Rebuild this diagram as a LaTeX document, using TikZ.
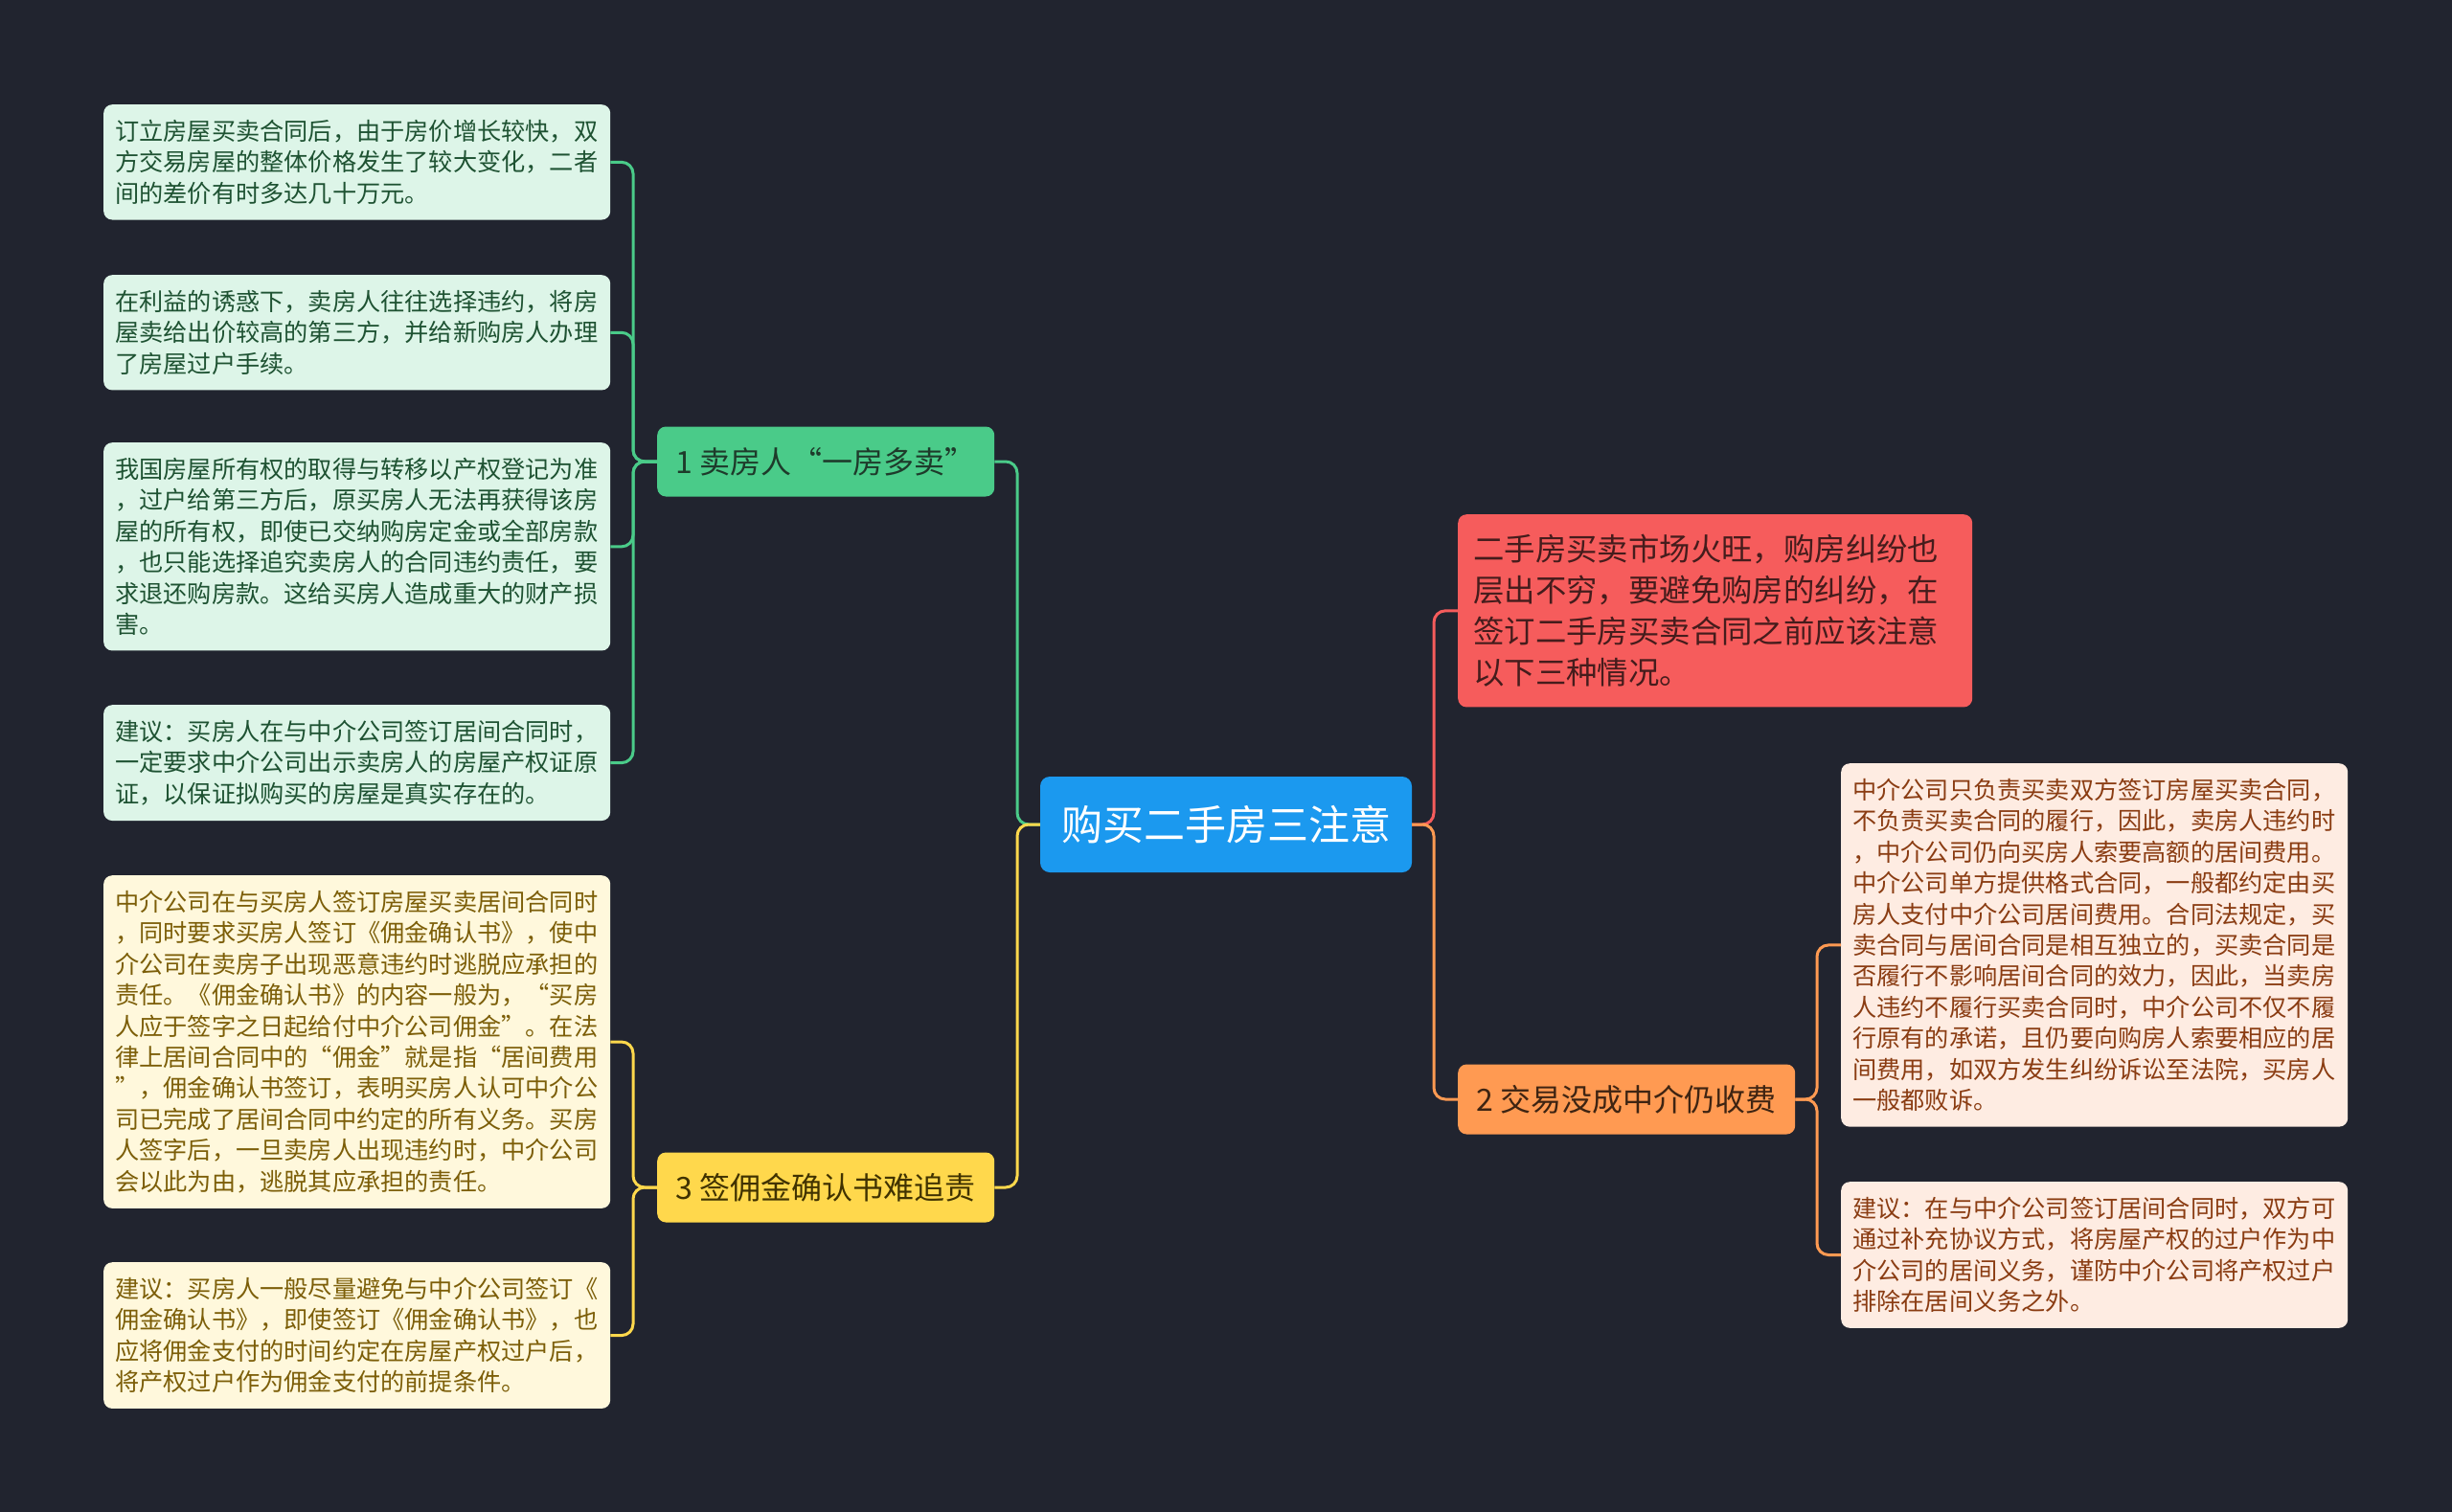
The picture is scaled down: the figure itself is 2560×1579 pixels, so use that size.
\documentclass[tikz,border=0pt]{standalone}
\usepackage{fontspec}
\setmainfont{Noto Sans CJK SC}
\definecolor{bgdark}{HTML}{21242F}
\definecolor{rootblue}{HTML}{1B99EF}
\definecolor{grn}{HTML}{4ACB89}
\definecolor{grntext}{HTML}{1E3B2B}
\definecolor{grnleaf}{HTML}{DDF5E8}
\definecolor{grnleaftext}{HTML}{1E5232}
\definecolor{ylw}{HTML}{FFD84C}
\definecolor{ylwtext}{HTML}{403200}
\definecolor{ylwleaf}{HTML}{FFF8DC}
\definecolor{ylwleaftext}{HTML}{7C5E08}
\definecolor{rd}{HTML}{F65C5C}
\definecolor{rdtext}{HTML}{451C1C}
\definecolor{org}{HTML}{FF9A52}
\definecolor{orgtext}{HTML}{3E2412}
\definecolor{orgleaf}{HTML}{FEECE2}
\definecolor{orgleaftext}{HTML}{8A3C12}
\begin{document}
\begin{tikzpicture}[x=1pt,y=-1pt,
  root/.style={fill=rootblue,text=white,rounded corners=10pt,inner xsep=22pt,minimum height=100pt,font=\fontsize{43}{50}\selectfont},
  topic/.style={rounded corners=9pt,minimum width=352pt,minimum height=73pt,inner xsep=16pt,font=\fontsize{32}{38}\selectfont},
  leaf/.style={rounded corners=9pt,text width=505pt,align=left,inner xsep=12pt,inner ysep=16pt,font=\fontsize{25.2}{32.4}\selectfont},
  link/.style={line width=3pt,rounded corners=12pt}]
% background
\fill[bgdark] (0,0) rectangle (2560,1579);
\coordinate (trunkL) at (1062,0);
\coordinate (trunkR) at (1497,0);
\coordinate (leafL) at (661,0);
\coordinate (leafR) at (1897,0);
% center and topics
\node[root] (root) at (1280,861) {购买二手房三注意};
\node[topic,fill=grn,text=grntext,anchor=west] (seller) at (686,482) {1 卖房人“一房多卖”};
\node[topic,fill=ylw,text=ylwtext,anchor=west] (commission) at (686,1240) {3 签佣金确认书难追责};
\node[topic,fill=org,text=orgtext,anchor=west] (agentfee) at (1522,1148) {2 交易没成中介仍收费};
\node[leaf,fill=rd,text=rdtext,anchor=north west,text width=505pt,inner xsep=16pt,inner ysep=21pt,
  font=\fontsize{32.4}{43}\selectfont] (intro) at (1522,537)
  {二手房买卖市场火旺，购房纠纷也\\层出不穷，要避免购房的纠纷，在\\签订二手房买卖合同之前应该注意\\以下三种情况。};
% left leaves
\node[leaf,fill=grnleaf,text=grnleaftext,anchor=north west] (s1) at (108,109)
  {订立房屋买卖合同后，由于房价增长较快，双\\方交易房屋的整体价格发生了较大变化，二者\\间的差价有时多达几十万元。};
\node[leaf,fill=grnleaf,text=grnleaftext,anchor=north west] (s2) at (108,287)
  {在利益的诱惑下，卖房人往往选择违约，将房\\屋卖给出价较高的第三方，并给新购房人办理\\了房屋过户手续。};
\node[leaf,fill=grnleaf,text=grnleaftext,anchor=north west] (s3) at (108,462)
  {我国房屋所有权的取得与转移以产权登记为准\\，过户给第三方后，原买房人无法再获得该房\\屋的所有权，即使已交纳购房定金或全部房款\\，也只能选择追究卖房人的合同违约责任，要\\求退还购房款。这给买房人造成重大的财产损\\害。};
\node[leaf,fill=grnleaf,text=grnleaftext,anchor=north west] (s4) at (108,736)
  {建议：买房人在与中介公司签订居间合同时，\\一定要求中介公司出示卖房人的房屋产权证原\\证，以保证拟购买的房屋是真实存在的。};
\node[leaf,fill=ylwleaf,text=ylwleaftext,anchor=north west] (c1) at (108,914)
  {中介公司在与买房人签订房屋买卖居间合同时\\，同时要求买房人签订《佣金确认书》，使中\\介公司在卖房子出现恶意违约时逃脱应承担的\\责任。《佣金确认书》的内容一般为，“买房\\人应于签字之日起给付中介公司佣金”。在法\\律上居间合同中的“佣金”就是指“居间费用\\”，佣金确认书签订，表明买房人认可中介公\\司已完成了居间合同中约定的所有义务。买房\\人签字后，一旦卖房人出现违约时，中介公司\\会以此为由，逃脱其应承担的责任。};
\node[leaf,fill=ylwleaf,text=ylwleaftext,anchor=north west] (c2) at (108,1318)
  {建议：买房人一般尽量避免与中介公司签订《\\佣金确认书》，即使签订《佣金确认书》，也\\应将佣金支付的时间约定在房屋产权过户后，\\将产权过户作为佣金支付的前提条件。};
% right leaves
\node[leaf,fill=orgleaf,text=orgleaftext,anchor=north west] (f1) at (1922,797)
  {中介公司只负责买卖双方签订房屋买卖合同，\\不负责买卖合同的履行，因此，卖房人违约时\\，中介公司仍向买房人索要高额的居间费用。\\中介公司单方提供格式合同，一般都约定由买\\房人支付中介公司居间费用。合同法规定，买\\卖合同与居间合同是相互独立的，买卖合同是\\否履行不影响居间合同的效力，因此，当卖房\\人违约不履行买卖合同时，中介公司不仅不履\\行原有的承诺，且仍要向购房人索要相应的居\\间费用，如双方发生纠纷诉讼至法院，买房人\\一般都败诉。};
\node[leaf,fill=orgleaf,text=orgleaftext,anchor=north west] (f2) at (1922,1234)
  {建议：在与中介公司签订居间合同时，双方可\\通过补充协议方式，将房屋产权的过户作为中\\介公司的居间义务，谨防中介公司将产权过户\\排除在居间义务之外。};
% connectors
\foreach \n in {s1,s2,s3,s4}
  \draw[link,grn] (seller.west) -- (seller.west -| leafL) |- (\n.east);
\foreach \n in {c1,c2}
  \draw[link,ylw] (commission.west) -- (commission.west -| leafL) |- (\n.east);
\foreach \n in {f1,f2}
  \draw[link,org] (agentfee.east) -- (agentfee.east -| leafR) |- (\n.west);
\draw[link,grn] (root.west) -- (root.west -| trunkL) |- (seller.east);
\draw[link,ylw] (root.west) -- (root.west -| trunkL) |- (commission.east);
\draw[link,rd] (root.east) -- (root.east -| trunkR) |- (intro.west);
\draw[link,org] (root.east) -- (root.east -| trunkR) |- (agentfee.west);
\end{tikzpicture}
\end{document}
